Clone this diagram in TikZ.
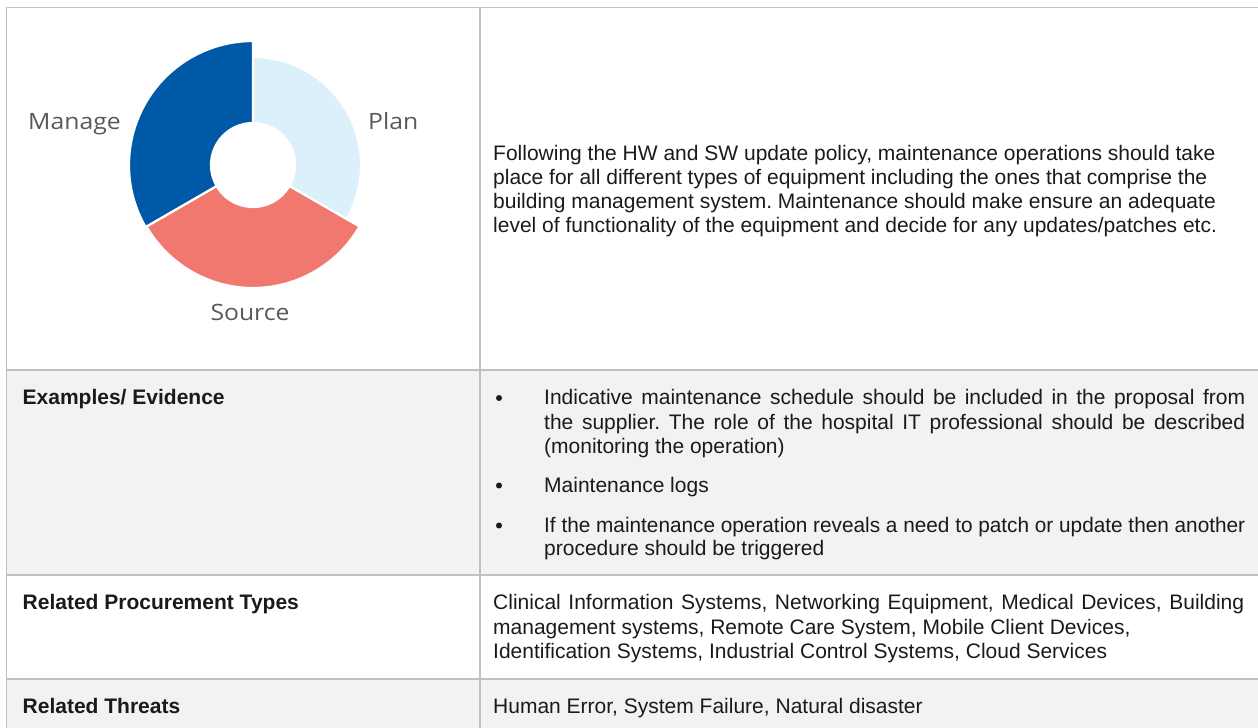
\documentclass[tikz,border=0pt]{standalone}
\usepackage{fontspec}
\usepackage{graphicx}
\setmainfont{Liberation Sans}
\newfontfamily\donutfont[FakeStretch=1.1]{Open Sans}
\definecolor{gridc}{HTML}{C0C0C0}
\definecolor{rowfill}{HTML}{F2F2F2}
\definecolor{textc}{HTML}{1A1A1A}
\definecolor{labelc}{HTML}{595959}
\definecolor{managec}{HTML}{0059A7}
\definecolor{planc}{HTML}{DCF0FB}
\definecolor{sourcec}{HTML}{F1786F}
\frenchspacing
\newcommand\jl[2]{\sbox0{#2}\ifdim\wd0>#1\relax\resizebox{#1}{\height}{#2}\else\makebox[#1][s]{#2}\fi}
\tikzset{
  body/.style={anchor=base west, inner sep=0pt, text=textc, font=\fontsize{21}{24}\selectfont},
  head/.style={body, font=\fontsize{21}{24}\selectfont\bfseries},
  dlabel/.style={anchor=base west, inner sep=0pt, text=labelc, font=\donutfont\fontsize{22.5}{26}\selectfont},
  seg/.style={draw=white, line width=2.2pt},
  gridline/.style={draw=gridc, line width=1.4pt},
  bulletdot/.style={circle, fill=textc, inner sep=0pt, minimum size=6pt}
}
\begin{document}
\begin{tikzpicture}[x=1pt,y=1pt]
\useasboundingbox (0,0) rectangle (1258,-728);
% shaded rows
\fill[rowfill] (6.5,-370) rectangle (1258,-575);
\fill[rowfill] (6.5,-679) rectangle (1258,-728);
% grid
\draw[gridline] (6.5,-728) -- (6.5,-7.5) -- (1258,-7.5);
\draw[gridline] (480,-7.5) -- (480,-728);
\draw[gridline] (6.5,-370) -- (1258,-370);
\draw[gridline] (6.5,-575) -- (1258,-575);
\draw[gridline] (6.5,-679) -- (1258,-679);
% donut
\begin{scope}[shift={(253,-165)}]
\fill[planc,seg] (90:108pt) arc[start angle=90, end angle=-30, radius=108pt] -- (-30:42pt) arc[start angle=-30, end angle=90, radius=42pt] -- cycle;
\fill[sourcec,seg] (-30:123pt) arc[start angle=-30, end angle=-150, radius=123pt] -- (-150:42pt) arc[start angle=-150, end angle=-30, radius=42pt] -- cycle;
\fill[managec,seg] (210:124pt) arc[start angle=210, end angle=90, radius=124pt] -- (90:42pt) arc[start angle=90, end angle=210, radius=42pt] -- cycle;
\end{scope}
\node[dlabel] (manage) at (28,-129.3) {Manage};
\node[dlabel] (plan) at (368,-129.3) {Plan};
\node[dlabel, anchor=base] (source) at (250,-320.7) {Source};
% top description
\node[body] (t1) at (493,-160) {Following the HW and SW update policy, maintenance operations should take};
\node[body] (t2) at (493,-184) {place for all different types of equipment including the ones that comprise the};
\node[body] (t3) at (493,-208) {building management system. Maintenance should make ensure an adequate};
\node[body] (t4) at (493,-232) {level of functionality of the equipment and decide for any updates/patches etc.};
% examples row
\node[head] (h1) at (22.5,-404.5) {Examples/ Evidence};
\node[bulletdot] (d1) at (499,-398) {};
\node[body] (e1) at (544,-404.5) {\jl{701pt}{Indicative maintenance schedule should be included in the proposal from}};
\node[body] (e2) at (544,-429) {\jl{701pt}{the supplier. The role of the hospital IT professional should be described}};
\node[body] (e3) at (544,-453.5) {(monitoring the operation)};
\node[bulletdot] (d2) at (499,-485.5) {};
\node[body] (e4) at (544,-492) {Maintenance logs};
\node[bulletdot] (d3) at (499,-525.5) {};
\node[body] (e5) at (544,-532) {\jl{701pt}{If the maintenance operation reveals a need to patch or update then another}};
\node[body] (e6) at (544,-555.5) {procedure should be triggered};
% procurement row
\node[head] (h2) at (22.5,-609.5) {Related Procurement Types};
\node[body] (p1) at (493,-609.5) {\jl{751pt}{Clinical Information Systems, Networking Equipment, Medical Devices, Building}};
\node[body] (p2) at (493,-634) {management systems, Remote Care System, Mobile Client Devices,};
\node[body] (p3) at (493,-658.5) {Identification Systems, Industrial Control Systems, Cloud Services};
% threats row
\node[head] (h3) at (22.5,-713.5) {Related Threats};
\node[body] (r1) at (493,-713.5) {Human Error, System Failure, Natural disaster};
\end{tikzpicture}
\end{document}
